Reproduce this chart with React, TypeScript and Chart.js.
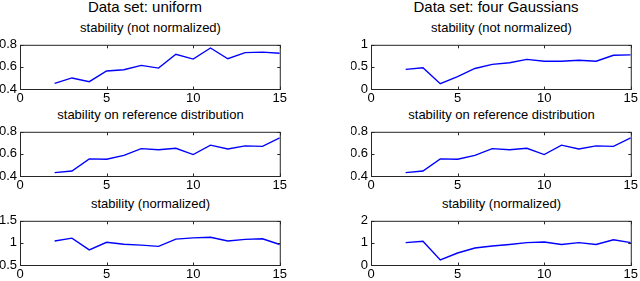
import React, { useEffect, useRef } from 'react';
import { Chart, registerables } from 'chart.js';

Chart.register(...registerables);

// ---------- data ----------
const clusterCounts = [2, 3, 4, 5, 6, 7, 8, 9, 10, 11, 12, 13, 14, 15];

const uniformNotNormalized = [0.451, 0.5, 0.466, 0.563, 0.574, 0.614, 0.589, 0.714, 0.671, 0.771, 0.674, 0.729, 0.734, 0.723];
const uniformReference = [0.431, 0.445, 0.555, 0.552, 0.586, 0.648, 0.637, 0.651, 0.594, 0.679, 0.645, 0.673, 0.668, 0.746];
const uniformNormalized = [1.043, 1.107, 0.843, 1.014, 0.971, 0.95, 0.921, 1.086, 1.114, 1.129, 1.043, 1.079, 1.093, 0.964];

const gaussNotNormalized = [0.443, 0.479, 0.121, 0.279, 0.464, 0.557, 0.593, 0.671, 0.629, 0.629, 0.65, 0.629, 0.764, 0.771];
const gaussReference = [0.431, 0.445, 0.555, 0.552, 0.586, 0.648, 0.637, 0.651, 0.594, 0.679, 0.645, 0.673, 0.668, 0.746];
const gaussNormalized = [1.014, 1.071, 0.229, 0.543, 0.771, 0.857, 0.929, 1.014, 1.043, 0.929, 1.014, 0.929, 1.143, 1.014];

const xTicks = [0, 5, 10, 15];
const yTicksUniformNotNorm = [0.4, 0.6, 0.8];
const yTicksReference = [0.4, 0.6, 0.8];
const yTicksUniformNorm = [0.5, 1, 1.5];
const yTicksGaussNotNorm = [0, 0.5, 1];
const yTicksGaussNorm = [0, 1, 2];

const columnTitles = ['Data set: uniform', 'Data set: four Gaussians'];
const rowTitles = ['stability (not normalized)', 'stability on reference distribution', 'stability (normalized)'];

// ---------- layout ----------
const FONT = '"Liberation Sans", Arial, Helvetica, sans-serif';
const COL_LEFT = [20, 371];
const ROW_TOP = [42, 129, 218];
const PLOT_W = 261;
const PLOT_H = 47;
const Y_W = 20;
const PAD_T = 8;
const PAD_R = 8;
const X_H = 16;

const boxPlugin = {
  id: 'matlabBox',
  afterDraw(chart: any) {
    const { ctx, chartArea, scales } = chart;
    const { left, top, right, bottom } = chartArea;
    ctx.save();
    ctx.strokeStyle = '#262626';
    ctx.lineWidth = 1;
    ctx.strokeRect(left + 0.5, top + 0.5, right - left, bottom - top);
    const tl = 3;
    ctx.beginPath();
    scales.x.ticks.forEach((t: any) => {
      const px = Math.round(scales.x.getPixelForValue(t.value)) + 0.5;
      ctx.moveTo(px, bottom + 0.5);
      ctx.lineTo(px, bottom + 0.5 - tl);
      ctx.moveTo(px, top + 0.5);
      ctx.lineTo(px, top + 0.5 + tl);
    });
    scales.y.ticks.forEach((t: any) => {
      const py = Math.round(scales.y.getPixelForValue(t.value)) + 0.5;
      ctx.moveTo(left + 0.5, py);
      ctx.lineTo(left + 0.5 + tl, py);
      ctx.moveTo(right + 0.5, py);
      ctx.lineTo(right + 0.5 - tl, py);
    });
    ctx.stroke();
    ctx.restore();
  },
};

type PanelProps = { col: number; row: number; values: number[]; yTicks: number[] };

function Panel({ col, row, values, yTicks }: PanelProps) {
  const ref = useRef<HTMLCanvasElement>(null);
  const width = Y_W + PLOT_W + PAD_R;
  const height = PAD_T + PLOT_H + X_H;
  useEffect(() => {
    if (!ref.current) return;
    const tickFont = { family: FONT, size: 13 };
    const chart = new Chart(ref.current, {
      type: 'line',
      data: {
        datasets: [
          {
            data: clusterCounts.map((x, i) => ({ x, y: values[i] })),
            borderColor: '#0000ff',
            borderWidth: 1.4,
            pointRadius: 0,
            tension: 0,
            fill: false,
          },
        ],
      },
      options: {
        responsive: false,
        animation: false,
        devicePixelRatio: 1,
        layout: { padding: { top: PAD_T, right: PAD_R, left: 0, bottom: 0 } },
        plugins: { legend: { display: false }, tooltip: { enabled: false } },
        scales: {
          x: {
            type: 'linear',
            min: xTicks[0],
            max: xTicks[xTicks.length - 1],
            grid: { display: false, drawTicks: false },
            border: { display: false },
            afterBuildTicks: (s: any) => {
              s.ticks = xTicks.map((v) => ({ value: v }));
            },
            afterFit: (s: any) => {
              s.height = X_H;
            },
            ticks: {
              padding: 2,
              font: tickFont,
              color: '#000',
              maxRotation: 0,
              autoSkip: false,
              callback: (v: any) => String(+Number(v).toFixed(2)),
            },
          },
          y: {
            type: 'linear',
            min: yTicks[0],
            max: yTicks[yTicks.length - 1],
            grid: { display: false, drawTicks: false },
            border: { display: false },
            afterBuildTicks: (s: any) => {
              s.ticks = yTicks.map((v) => ({ value: v }));
            },
            afterFit: (s: any) => {
              s.width = Y_W;
            },
            ticks: {
              padding: 3,
              font: tickFont,
              color: '#000',
              autoSkip: false,
              callback: (v: any) => String(+Number(v).toFixed(2)),
            },
          },
        },
      } as any,
      plugins: [boxPlugin],
    });
    return () => chart.destroy();
  }, [values, yTicks]);
  return (
    <canvas
      ref={ref}
      width={width}
      height={height}
      style={{
        position: 'absolute',
        left: COL_LEFT[col] - Y_W,
        top: ROW_TOP[row] - PAD_T,
        width,
        height,
      }}
    />
  );
}

const panels = [
  { col: 0, row: 0, values: uniformNotNormalized, yTicks: yTicksUniformNotNorm },
  { col: 0, row: 1, values: uniformReference, yTicks: yTicksReference },
  { col: 0, row: 2, values: uniformNormalized, yTicks: yTicksUniformNorm },
  { col: 1, row: 0, values: gaussNotNormalized, yTicks: yTicksGaussNotNorm },
  { col: 1, row: 1, values: gaussReference, yTicks: yTicksReference },
  { col: 1, row: 2, values: gaussNormalized, yTicks: yTicksGaussNorm },
];

export default function App() {
  return (
    <div
      style={{
        position: 'absolute',
        left: 0,
        top: 0,
        width: 640,
        height: 281,
        overflow: 'hidden',
        background: '#fff',
        fontFamily: FONT,
        color: '#000',
      }}
    >
      {columnTitles.map((t, c) => (
        <div
          key={'ct' + c}
          style={{
            position: 'absolute',
            left: COL_LEFT[c] + PLOT_W / 2 - 5.5 - 150,
            width: 300,
            top: -1,
            textAlign: 'center',
            fontSize: 15,
            lineHeight: '15px',
            whiteSpace: 'nowrap',
          }}
        >
          {t}
        </div>
      ))}
      {[0, 1].map((c) =>
        rowTitles.map((t, r) => (
          <div
            key={'rt' + c + r}
            style={{
              position: 'absolute',
              left: COL_LEFT[c] + PLOT_W / 2 - 150,
              width: 300,
              top: ROW_TOP[r] - 21.5,
              textAlign: 'center',
              fontSize: 13,
              lineHeight: '13px',
              whiteSpace: 'nowrap',
            }}
          >
            {t}
          </div>
        ))
      )}
      {panels.map((p) => (
        <Panel key={p.col + '-' + p.row} {...p} />
      ))}
    </div>
  );
}
